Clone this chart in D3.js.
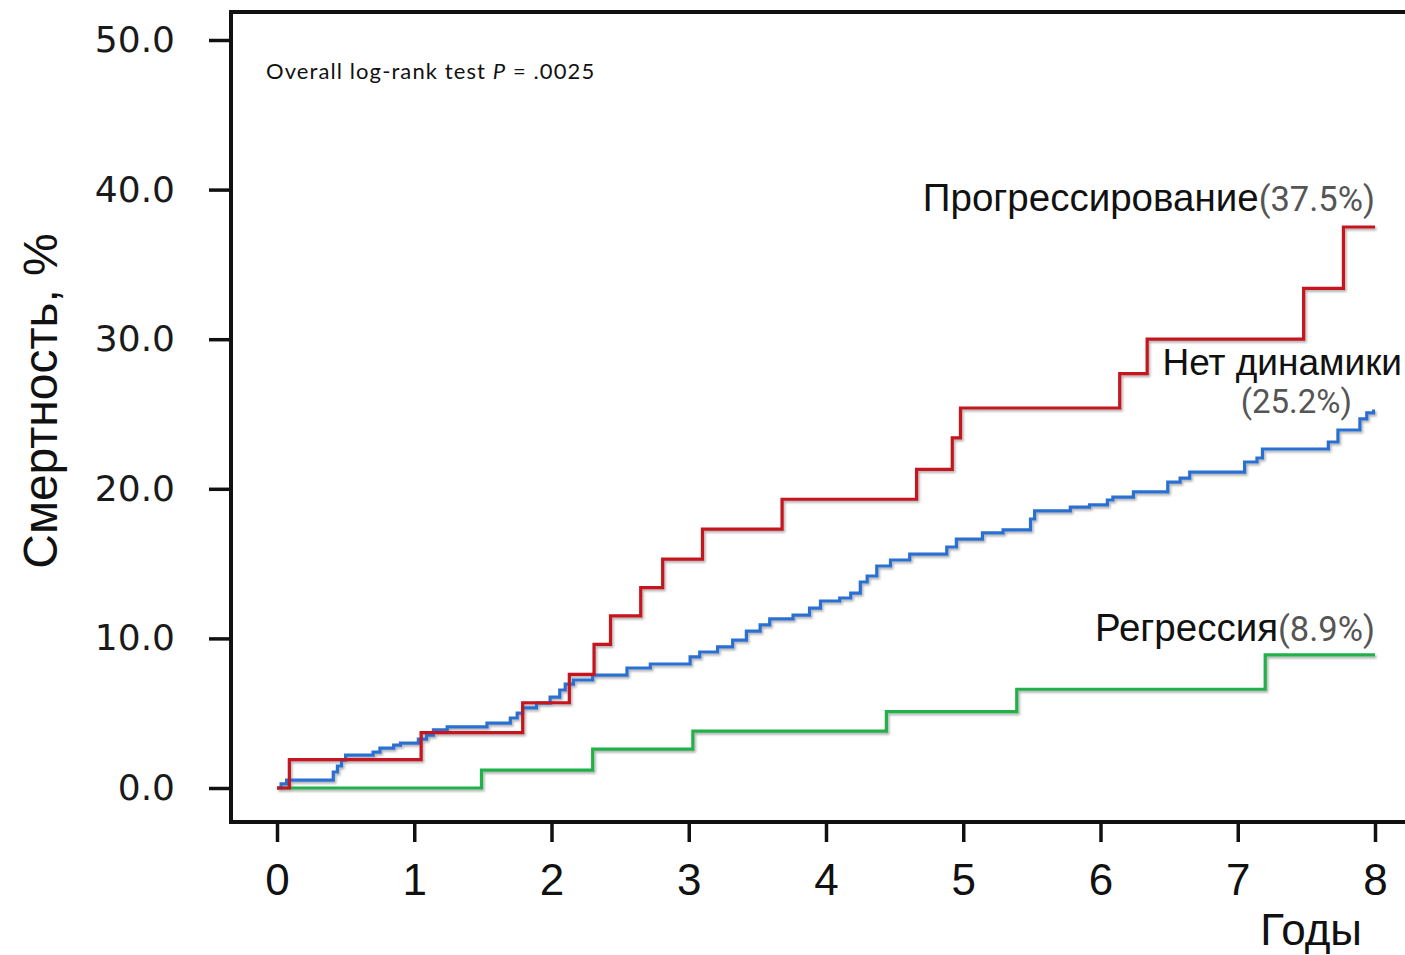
<!DOCTYPE html>
<html>
<head>
<meta charset="utf-8">
<script src="https://cdn.jsdelivr.net/npm/d3@7"></script>
<style>
  html, body { margin: 0; padding: 0; background: #fff; }
  svg { display: block; }
</style>
</head>
<body>
<svg id="chart" width="1405" height="955"></svg>
<script>
// Cumulative mortality (%) by year, step functions per group
const progTimes  = [0, 0.09, 1.05, 1.79, 2.13, 2.31, 2.43, 2.65, 2.81, 3.10, 3.68, 4.66, 4.92, 4.98, 6.14, 6.34, 7.48, 7.77, 8.0];
const progValues = [0, 1.9, 3.7, 5.7, 7.6, 9.6, 11.5, 13.4, 15.3, 17.3, 19.3, 21.3, 23.4, 25.4, 27.7, 30.0, 33.4, 37.5, 37.5];

const stableTimes  = [0, 0.03, 0.07, 0.41, 0.44, 0.47, 0.50, 0.70, 0.75, 0.85, 0.90, 1.03, 1.09, 1.14, 1.24, 1.53, 1.70, 1.75, 1.79, 1.89, 1.99, 2.06, 2.10, 2.16, 2.30, 2.55, 2.72, 3.01, 3.08, 3.21, 3.32, 3.42, 3.52, 3.59, 3.76, 3.88, 3.96, 4.10, 4.18, 4.25, 4.30, 4.37, 4.47, 4.61, 4.88, 4.95, 5.14, 5.29, 5.49, 5.52, 5.78, 5.92, 6.05, 6.09, 6.24, 6.49, 6.58, 6.65, 7.05, 7.14, 7.18, 7.66, 7.73, 7.89, 7.94, 7.99, 8.0];
const stableValues = [0, 0.27, 0.53, 1.07, 1.47, 1.87, 2.2, 2.4, 2.67, 2.87, 3.0, 3.27, 3.54, 3.88, 4.08, 4.34, 4.68, 5.01, 5.35, 5.68, 6.08, 6.55, 6.95, 7.22, 7.55, 8.02, 8.29, 8.76, 9.09, 9.43, 9.89, 10.49, 10.9, 11.3, 11.56, 12.03, 12.5, 12.7, 13.03, 13.77, 14.17, 14.84, 15.24, 15.64, 16.11, 16.64, 17.05, 17.25, 17.98, 18.52, 18.78, 18.92, 19.25, 19.45, 19.79, 20.45, 20.72, 21.12, 21.79, 22.06, 22.66, 23.13, 23.93, 24.67, 25.07, 25.2, 25.2];

const regrTimes  = [0, 1.49, 2.30, 3.03, 4.44, 5.39, 7.20, 8.0];
const regrValues = [0, 1.2, 2.6, 3.8, 5.1, 6.6, 8.9, 8.9];

const xTicks = [0, 1, 2, 3, 4, 5, 6, 7, 8];
const yTicks = [0, 10, 20, 30, 40, 50];

const groupNames  = ["Прогрессирование", "Нет динамики", "Регрессия"];
const groupTotals = ["(37.5%)", "(25.2%)", "(8.9%)"];

const svg = d3.select("#chart");
svg.append("rect").attr("width", 1405).attr("height", 955).attr("fill", "#fff");

const x = d3.scaleLinear().domain([0, 8]).range([277, 1375]);
const y = d3.scaleLinear().domain([0, 50]).range([788, 40]);

// soft shadow under the curves
const defs = svg.append("defs");
const f = defs.append("filter").attr("id", "shadow")
  .attr("x", "-5%").attr("y", "-5%").attr("width", "110%").attr("height", "110%");
f.append("feDropShadow").attr("dx", 1.5).attr("dy", 2).attr("stdDeviation", 1.2)
  .attr("flood-color", "#000").attr("flood-opacity", 0.3);

// y axis
const yAxis = svg.append("g")
  .attr("transform", "translate(231,0)")
  .call(d3.axisLeft(y).tickValues(yTicks).tickFormat(d3.format(".1f")).tickSize(22).tickPadding(34));
yAxis.select(".domain").remove();
yAxis.selectAll(".tick line").attr("stroke", "#111").attr("stroke-width", 3.5);
yAxis.selectAll(".tick text")
  .attr("font-family", "DejaVu Sans, sans-serif").attr("font-size", 36).attr("fill", "#1a1a1a");

// x axis
const xAxis = svg.append("g")
  .attr("transform", "translate(0,822)")
  .call(d3.axisBottom(x).tickValues(xTicks).tickFormat(d3.format("d")).tickSize(20).tickPadding(22));
xAxis.select(".domain").remove();
xAxis.selectAll(".tick line").attr("stroke", "#111").attr("stroke-width", 3.5);
xAxis.selectAll(".tick text")
  .attr("font-family", "Liberation Sans, Arial, sans-serif").attr("font-size", 44).attr("fill", "#111");

// frame (open on the right edge)
svg.append("path")
  .attr("d", "M1420,12 H231 V822 H1420")
  .attr("fill", "none").attr("stroke", "#111").attr("stroke-width", 4);

// curves
const line = d3.line().x(d => x(d[0])).y(d => y(d[1])).curve(d3.curveStepAfter);
const series = [
  { t: regrTimes, v: regrValues, color: "#22b04a" },
  { t: stableTimes, v: stableValues, color: "#2c6fd1" },
  { t: progTimes, v: progValues, color: "#c4151f" }
];
svg.append("g").attr("filter", "url(#shadow)")
  .selectAll("path").data(series).join("path")
  .attr("d", s => line(s.t.map((t, i) => [t, s.v[i]])))
  .attr("fill", "none")
  .attr("stroke", s => s.color)
  .attr("stroke-width", 3.2)
  .attr("stroke-linejoin", "miter");

// axis titles
svg.append("text")
  .attr("transform", "translate(57,401) rotate(-90)")
  .attr("text-anchor", "middle")
  .attr("font-family", "Liberation Sans, Arial, sans-serif").attr("font-size", 48).attr("fill", "#111")
  .text("Смертность, %");
svg.append("text")
  .attr("x", 1362).attr("y", 945).attr("text-anchor", "end")
  .attr("font-family", "Liberation Sans, Arial, sans-serif").attr("font-size", 44).attr("fill", "#111")
  .text("Годы");

// test statistic
const stat = svg.append("text")
  .attr("x", 266).attr("y", 79)
  .attr("font-family", "Lato, sans-serif").attr("font-size", 22).attr("letter-spacing", 1.1).attr("fill", "#111");
stat.append("tspan").text("Overall log-rank test ");
stat.append("tspan").attr("font-style", "italic").text("P");
stat.append("tspan").text(" = .0025");

// group labels
const nameFont = { family: "Liberation Sans, Arial, sans-serif", size: 38.5 };
const pctFont = { family: "Roboto, sans-serif", size: 34.5, fill: "#555" };

function label(xPos, yPos, anchor, name, pct, size) {
  const t = svg.append("text").attr("x", xPos).attr("y", yPos).attr("text-anchor", anchor);
  t.append("tspan").attr("font-family", nameFont.family).attr("font-size", size || nameFont.size).attr("fill", "#111").text(name);
  if (pct) t.append("tspan").attr("font-family", pctFont.family).attr("font-size", pctFont.size).attr("fill", pctFont.fill).text(pct);
  return t;
}
label(1375, 211, "end", groupNames[0], groupTotals[0]);
label(1402, 375, "end", groupNames[1], null, 37);
svg.append("text").attr("x", 1352).attr("y", 413).attr("text-anchor", "end")
  .attr("font-family", pctFont.family).attr("font-size", 33).attr("fill", pctFont.fill)
  .text(groupTotals[1]);
label(1375, 641, "end", groupNames[2], groupTotals[2]);
</script>
</body>
</html>
